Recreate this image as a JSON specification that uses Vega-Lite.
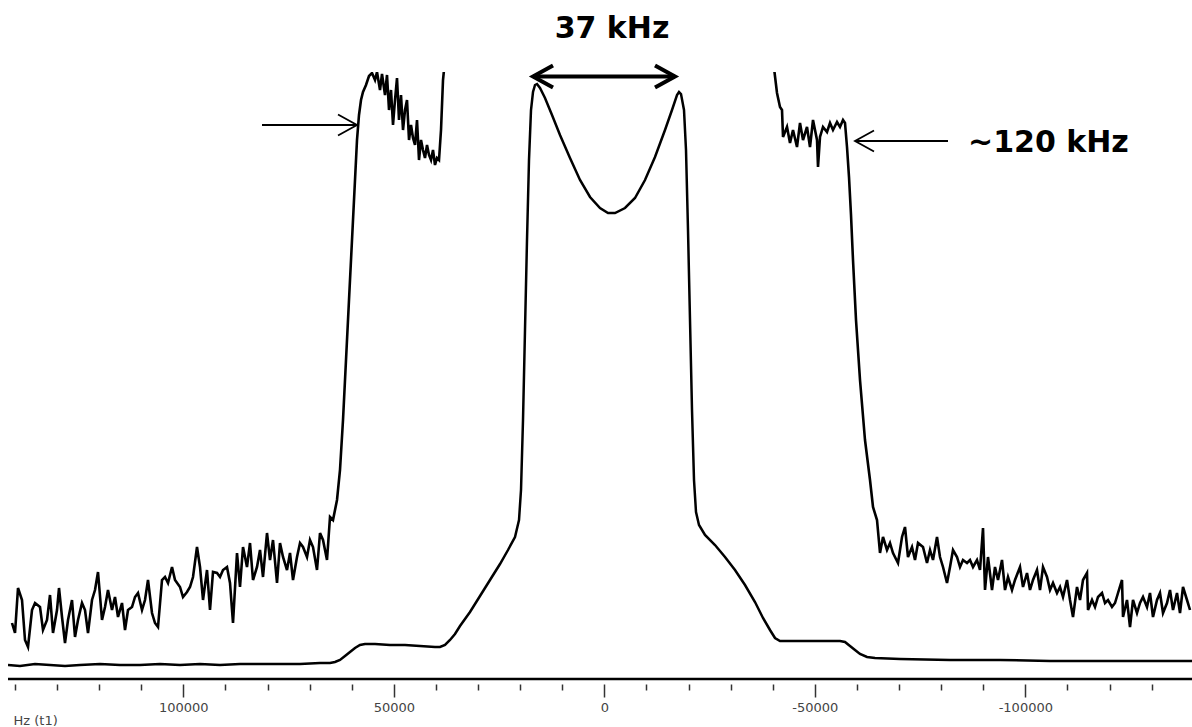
{
  "$schema": "https://vega.github.io/schema/vega-lite/v6.json",
  "width": 1184,
  "height": 612,
  "autosize": {"type": "none"},
  "padding": {"left": 8, "top": 72, "right": 0, "bottom": 43},
  "background": "white",
  "config": {"view": {"stroke": null}},
  "datasets": {
    "full": [
      {"hz":141640,"i":19},{"hz":138789,"i":18},{"hz":135226,"i":20},{"hz":131663,"i":19},{"hz":128100,"i":18},{"hz":124537,"i":19},{"hz":119786,"i":20},{"hz":115036,"i":19},{"hz":110285,"i":19},{"hz":105535,"i":20},{"hz":100784,"i":19},{"hz":96033,"i":20},{"hz":91283,"i":19},{"hz":86532,"i":20},{"hz":81782,"i":20},{"hz":77031,"i":20},{"hz":72280,"i":20},{"hz":67530,"i":21},{"hz":65155,"i":21},{"hz":63967,"i":22},{"hz":62779,"i":24},{"hz":61592,"i":28},{"hz":60404,"i":32},{"hz":59216,"i":36},{"hz":58029,"i":39},{"hz":56841,"i":40},{"hz":54466,"i":40},{"hz":50903,"i":39},{"hz":47340,"i":39},{"hz":43777,"i":38},{"hz":40214,"i":37},{"hz":39026,"i":37},{"hz":37839,"i":39},{"hz":36651,"i":44},{"hz":35463,"i":50},{"hz":34276,"i":58},{"hz":31900,"i":72},{"hz":29525,"i":88},{"hz":27150,"i":104},{"hz":24774,"i":120},{"hz":22874,"i":134},{"hz":21211,"i":147},{"hz":20261,"i":164},{"hz":19786,"i":194},{"hz":19311,"i":264},{"hz":18836,"i":354},{"hz":18361,"i":444},{"hz":17886,"i":524},{"hz":17411,"i":574},{"hz":16936,"i":592},{"hz":16461,"i":599},{"hz":15986,"i":600},{"hz":15273,"i":596},{"hz":14086,"i":586},{"hz":12423,"i":569},{"hz":10523,"i":549},{"hz":8147,"i":526},{"hz":5772,"i":504},{"hz":3397,"i":487},{"hz":1021,"i":476},{"hz":-879,"i":471},{"hz":-2542,"i":471},{"hz":-4917,"i":476},{"hz":-7292,"i":486},{"hz":-9668,"i":504},{"hz":-12043,"i":527},{"hz":-14418,"i":554},{"hz":-16081,"i":574},{"hz":-17268,"i":589},{"hz":-17744,"i":592},{"hz":-18219,"i":590},{"hz":-18931,"i":574},{"hz":-19406,"i":534},{"hz":-19881,"i":454},{"hz":-20356,"i":364},{"hz":-20831,"i":274},{"hz":-21306,"i":204},{"hz":-21782,"i":172},{"hz":-22494,"i":159},{"hz":-23919,"i":149},{"hz":-26295,"i":139},{"hz":-28670,"i":127},{"hz":-31045,"i":114},{"hz":-33421,"i":99},{"hz":-35796,"i":82},{"hz":-37696,"i":66},{"hz":-39359,"i":54},{"hz":-40546,"i":46},{"hz":-41734,"i":43},{"hz":-46485,"i":43},{"hz":-51235,"i":43},{"hz":-55986,"i":43},{"hz":-57174,"i":42},{"hz":-58361,"i":38},{"hz":-59549,"i":34},{"hz":-60736,"i":30},{"hz":-62399,"i":27},{"hz":-64299,"i":26},{"hz":-70238,"i":25},{"hz":-82114,"i":24},{"hz":-93991,"i":24},{"hz":-105867,"i":23},{"hz":-117744,"i":23},{"hz":-129620,"i":23},{"hz":-139596,"i":23}
    ],
    "expanded": [
      {"hz":140689,"i":61},{"hz":139976,"i":51},{"hz":139263,"i":96},{"hz":138313,"i":84},{"hz":137601,"i":44},{"hz":136888,"i":37},{"hz":135938,"i":74},{"hz":135225,"i":81},{"hz":134038,"i":77},{"hz":133325,"i":54},{"hz":132375,"i":64},{"hz":131662,"i":89},{"hz":130950,"i":51},{"hz":130000,"i":74},{"hz":129525,"i":96},{"hz":128812,"i":67},{"hz":128100,"i":41},{"hz":127387,"i":64},{"hz":126437,"i":84},{"hz":125724,"i":47},{"hz":125012,"i":64},{"hz":124062,"i":81},{"hz":123349,"i":74},{"hz":122636,"i":51},{"hz":121686,"i":84},{"hz":120974,"i":94},{"hz":120261,"i":112},{"hz":119311,"i":64},{"hz":118598,"i":77},{"hz":117886,"i":94},{"hz":116936,"i":74},{"hz":116223,"i":87},{"hz":115510,"i":67},{"hz":114560,"i":81},{"hz":113848,"i":54},{"hz":113135,"i":74},{"hz":112185,"i":77},{"hz":111472,"i":87},{"hz":110760,"i":91},{"hz":109810,"i":74},{"hz":109097,"i":84},{"hz":108385,"i":104},{"hz":107434,"i":71},{"hz":106722,"i":61},{"hz":106009,"i":57},{"hz":105059,"i":104},{"hz":104347,"i":107},{"hz":103634,"i":101},{"hz":102684,"i":117},{"hz":101971,"i":104},{"hz":100784,"i":97},{"hz":100071,"i":87},{"hz":99121,"i":92},{"hz":98408,"i":97},{"hz":97696,"i":107},{"hz":96746,"i":137},{"hz":96033,"i":117},{"hz":95320,"i":84},{"hz":94370,"i":114},{"hz":93658,"i":74},{"hz":92945,"i":112},{"hz":91995,"i":111},{"hz":91282,"i":107},{"hz":90570,"i":114},{"hz":89620,"i":117},{"hz":88907,"i":101},{"hz":88195,"i":61},{"hz":87244,"i":131},{"hz":86532,"i":97},{"hz":85819,"i":137},{"hz":84869,"i":117},{"hz":84156,"i":141},{"hz":83444,"i":104},{"hz":82494,"i":117},{"hz":81781,"i":134},{"hz":81069,"i":107},{"hz":80118,"i":151},{"hz":79406,"i":124},{"hz":78693,"i":144},{"hz":77743,"i":101},{"hz":77031,"i":141},{"hz":76318,"i":127},{"hz":75368,"i":114},{"hz":74655,"i":131},{"hz":73943,"i":104},{"hz":72993,"i":127},{"hz":72280,"i":141},{"hz":71567,"i":137},{"hz":70617,"i":127},{"hz":69905,"i":144},{"hz":69192,"i":137},{"hz":68242,"i":114},{"hz":67529,"i":151},{"hz":66817,"i":144},{"hz":65867,"i":124},{"hz":65154,"i":167},{"hz":64442,"i":164},{"hz":63491,"i":184},{"hz":62779,"i":214},{"hz":62066,"i":264},{"hz":61354,"i":324},{"hz":60641,"i":384},{"hz":59928,"i":444},{"hz":59216,"i":504},{"hz":58741,"i":544},{"hz":58266,"i":569},{"hz":57791,"i":584},{"hz":57316,"i":592},{"hz":56603,"i":599},{"hz":55890,"i":608},{"hz":55178,"i":611},{"hz":54465,"i":604},{"hz":53990,"i":612},{"hz":53278,"i":594},{"hz":52803,"i":610},{"hz":52090,"i":589},{"hz":51615,"i":609},{"hz":51140,"i":574},{"hz":50665,"i":594},{"hz":50190,"i":559},{"hz":49715,"i":584},{"hz":49240,"i":606},{"hz":48765,"i":564},{"hz":48289,"i":589},{"hz":47814,"i":554},{"hz":47339,"i":574},{"hz":46864,"i":584},{"hz":46389,"i":544},{"hz":45914,"i":559},{"hz":45439,"i":546},{"hz":44964,"i":539},{"hz":44489,"i":564},{"hz":44014,"i":524},{"hz":43539,"i":544},{"hz":43064,"i":534},{"hz":42589,"i":526},{"hz":42114,"i":539},{"hz":41639,"i":529},{"hz":41164,"i":524},{"hz":40689,"i":534},{"hz":40213,"i":519},{"hz":39738,"i":526},{"hz":39263,"i":524},{"hz":38788,"i":554},{"hz":38313,"i":604},{"hz":37838,"i":624},{"hz":36175,"i":984},{"hz":-38171,"i":984},{"hz":-40309,"i":616},{"hz":-41022,"i":591},{"hz":-41734,"i":577},{"hz":-42209,"i":574},{"hz":-42451,"i":547},{"hz":-43397,"i":557},{"hz":-44110,"i":541},{"hz":-44822,"i":554},{"hz":-45772,"i":537},{"hz":-46485,"i":561},{"hz":-47198,"i":544},{"hz":-48148,"i":557},{"hz":-48860,"i":537},{"hz":-49573,"i":564},{"hz":-50523,"i":544},{"hz":-50761,"i":517},{"hz":-51236,"i":547},{"hz":-51948,"i":557},{"hz":-52898,"i":552},{"hz":-53611,"i":561},{"hz":-54323,"i":554},{"hz":-55274,"i":562},{"hz":-55986,"i":557},{"hz":-56699,"i":564},{"hz":-57174,"i":561},{"hz":-57649,"i":537},{"hz":-58124,"i":507},{"hz":-58599,"i":469},{"hz":-59074,"i":424},{"hz":-59787,"i":364},{"hz":-60737,"i":304},{"hz":-61924,"i":244},{"hz":-63112,"i":204},{"hz":-63825,"i":177},{"hz":-64775,"i":164},{"hz":-65487,"i":131},{"hz":-66200,"i":147},{"hz":-67150,"i":134},{"hz":-67863,"i":141},{"hz":-68575,"i":131},{"hz":-69763,"i":121},{"hz":-70715,"i":147},{"hz":-71426,"i":157},{"hz":-72138,"i":127},{"hz":-73088,"i":137},{"hz":-73801,"i":124},{"hz":-74514,"i":141},{"hz":-75701,"i":137},{"hz":-76651,"i":121},{"hz":-77364,"i":134},{"hz":-78076,"i":124},{"hz":-79027,"i":147},{"hz":-79739,"i":127},{"hz":-80452,"i":117},{"hz":-81402,"i":101},{"hz":-82115,"i":117},{"hz":-82827,"i":134},{"hz":-83777,"i":127},{"hz":-84490,"i":117},{"hz":-85202,"i":124},{"hz":-86153,"i":121},{"hz":-86865,"i":124},{"hz":-87578,"i":117},{"hz":-88528,"i":124},{"hz":-89240,"i":114},{"hz":-89953,"i":156},{"hz":-90428,"i":94},{"hz":-91141,"i":127},{"hz":-92091,"i":94},{"hz":-92803,"i":117},{"hz":-93516,"i":104},{"hz":-94466,"i":124},{"hz":-95179,"i":94},{"hz":-95891,"i":107},{"hz":-96841,"i":94},{"hz":-97554,"i":104},{"hz":-98742,"i":117},{"hz":-99454,"i":97},{"hz":-100404,"i":111},{"hz":-101117,"i":94},{"hz":-101829,"i":104},{"hz":-102780,"i":114},{"hz":-103492,"i":94},{"hz":-104205,"i":117},{"hz":-105155,"i":107},{"hz":-105868,"i":94},{"hz":-106580,"i":101},{"hz":-107530,"i":91},{"hz":-108243,"i":97},{"hz":-108955,"i":87},{"hz":-109906,"i":104},{"hz":-110618,"i":84},{"hz":-111331,"i":67},{"hz":-112281,"i":97},{"hz":-112993,"i":84},{"hz":-113706,"i":104},{"hz":-114656,"i":111},{"hz":-114894,"i":74},{"hz":-115844,"i":84},{"hz":-116556,"i":77},{"hz":-117269,"i":87},{"hz":-118219,"i":91},{"hz":-118932,"i":81},{"hz":-119644,"i":84},{"hz":-120594,"i":77},{"hz":-121307,"i":81},{"hz":-122020,"i":91},{"hz":-122970,"i":104},{"hz":-123207,"i":67},{"hz":-124157,"i":84},{"hz":-124870,"i":57},{"hz":-125582,"i":84},{"hz":-126533,"i":71},{"hz":-127245,"i":81},{"hz":-127958,"i":87},{"hz":-128908,"i":77},{"hz":-129621,"i":91},{"hz":-130333,"i":67},{"hz":-131283,"i":84},{"hz":-131996,"i":91},{"hz":-132708,"i":71},{"hz":-133659,"i":81},{"hz":-134371,"i":94},{"hz":-135084,"i":74},{"hz":-136034,"i":91},{"hz":-136746,"i":71},{"hz":-137459,"i":97},{"hz":-138409,"i":84},{"hz":-139122,"i":74}
    ],
    "shafts": [
      {"name":"37 kHz","from":16936,"to":-16794,"i":607.5,"weight":"thick"},
      {"name":"left edge","from":81306,"to":58741,"i":559,"weight":"thin"},
      {"name":"right edge","from":-59549,"to":-81639,"i":543,"weight":"thin"}
    ],
    "heads": [
      {"hz":16936,"i":607.5,"dir":"left","weight":"thick"},
      {"hz":-16794,"i":607.5,"dir":"right","weight":"thick"},
      {"hz":58741,"i":559,"dir":"right","weight":"thin"},
      {"hz":-59549,"i":543,"dir":"left","weight":"thin"}
    ],
    "labels": [
      {"hz":-1829,"i":646,"text":"37 kHz","align":"center"},
      {"hz":-86390,"i":532,"text":"~120 kHz","align":"left"}
    ]
  },
  "layer": [
    {
      "data": {"values": [{"i": 5}]},
      "mark": {"type": "rule", "stroke": "black", "strokeWidth": 2.5},
      "encoding": {
        "y": {"field": "i", "type": "quantitative", "scale": {"domain": [0, 612], "nice": false, "zero": false}, "axis": null}
      }
    },
    {
      "data": {"name": "full"},
      "mark": {"type": "line", "stroke": "black", "strokeWidth": 2.5, "clip": true},
      "encoding": {
        "x": {
          "field": "hz", "type": "quantitative",
          "scale": {"domain": [141640, -139596], "nice": false, "zero": false},
          "axis": {
            "values": [-130000,-120000,-110000,-100000,-90000,-80000,-70000,-60000,-50000,-40000,-30000,-20000,-10000,0,10000,20000,30000,40000,50000,60000,70000,80000,90000,100000,110000,120000,130000,140000],
            "tickSize": {"condition": {"test": "datum.value % 50000 === 0", "value": 13}, "value": 6},
            "labelExpr": "datum.value % 50000 === 0 ? '' + datum.value : ''",
            "domain": false,
            "grid": false,
            "tickColor": "#333",
            "tickWidth": 1.5,
            "labelFont": "DejaVu Sans",
            "labelFontSize": 13,
            "labelColor": "#444",
            "labelPadding": 4,
            "labelOverlap": false,
            "labelFlush": false,
            "title": "Hz (t1)",
            "titleFont": "DejaVu Sans",
            "titleFontSize": 13,
            "titleFontWeight": "normal",
            "titleColor": "#444",
            "titleAnchor": "start",
            "titleAlign": "left",
            "titleBaseline": "alphabetic",
            "titleX": 5,
            "titleY": 40
          }
        },
        "y": {"field": "i", "type": "quantitative"}
      }
    },
    {
      "data": {"name": "expanded"},
      "mark": {"type": "line", "stroke": "black", "strokeWidth": 2.6, "clip": true},
      "encoding": {
        "x": {"field": "hz", "type": "quantitative"},
        "y": {"field": "i", "type": "quantitative"}
      }
    },
    {
      "data": {"name": "shafts"},
      "mark": {"type": "rule", "stroke": "black"},
      "encoding": {
        "x": {"field": "from", "type": "quantitative"},
        "x2": {"field": "to"},
        "y": {"field": "i", "type": "quantitative"},
        "strokeWidth": {"field": "weight", "type": "nominal", "scale": {"domain": ["thick", "thin"], "range": [4, 1.8]}, "legend": null}
      }
    },
    {
      "data": {"name": "heads"},
      "transform": [{"filter": "datum.weight === 'thick'"}],
      "mark": {"type": "point", "filled": false, "stroke": "black", "strokeWidth": 4, "size": 1600, "opacity": 1, "strokeJoin": "miter"},
      "encoding": {
        "x": {"field": "hz", "type": "quantitative"},
        "y": {"field": "i", "type": "quantitative"},
        "shape": {"field": "dir", "type": "nominal", "scale": {"domain": ["left", "right"], "range": ["M1,-0.55L0,0L1,0.55", "M-1,-0.55L0,0L-1,0.55"]}, "legend": null}
      }
    },
    {
      "data": {"name": "heads"},
      "transform": [{"filter": "datum.weight === 'thin'"}],
      "mark": {"type": "point", "filled": false, "stroke": "black", "strokeWidth": 1.8, "size": 1444, "opacity": 1, "strokeJoin": "miter"},
      "encoding": {
        "x": {"field": "hz", "type": "quantitative"},
        "y": {"field": "i", "type": "quantitative"},
        "shape": {"field": "dir", "type": "nominal", "legend": null}
      }
    },
    {
      "data": {"name": "labels"},
      "transform": [{"filter": "datum.align === 'center'"}],
      "mark": {"type": "text", "font": "DejaVu Sans", "fontWeight": "bold", "fontSize": 30, "fill": "black", "baseline": "alphabetic", "align": "center"},
      "encoding": {
        "x": {"field": "hz", "type": "quantitative"},
        "y": {"field": "i", "type": "quantitative"},
        "text": {"field": "text"}
      }
    },
    {
      "data": {"name": "labels"},
      "transform": [{"filter": "datum.align === 'left'"}],
      "mark": {"type": "text", "font": "DejaVu Sans", "fontWeight": "bold", "fontSize": 30, "fill": "black", "baseline": "alphabetic", "align": "left"},
      "encoding": {
        "x": {"field": "hz", "type": "quantitative"},
        "y": {"field": "i", "type": "quantitative"},
        "text": {"field": "text"}
      }
    }
  ]
}
